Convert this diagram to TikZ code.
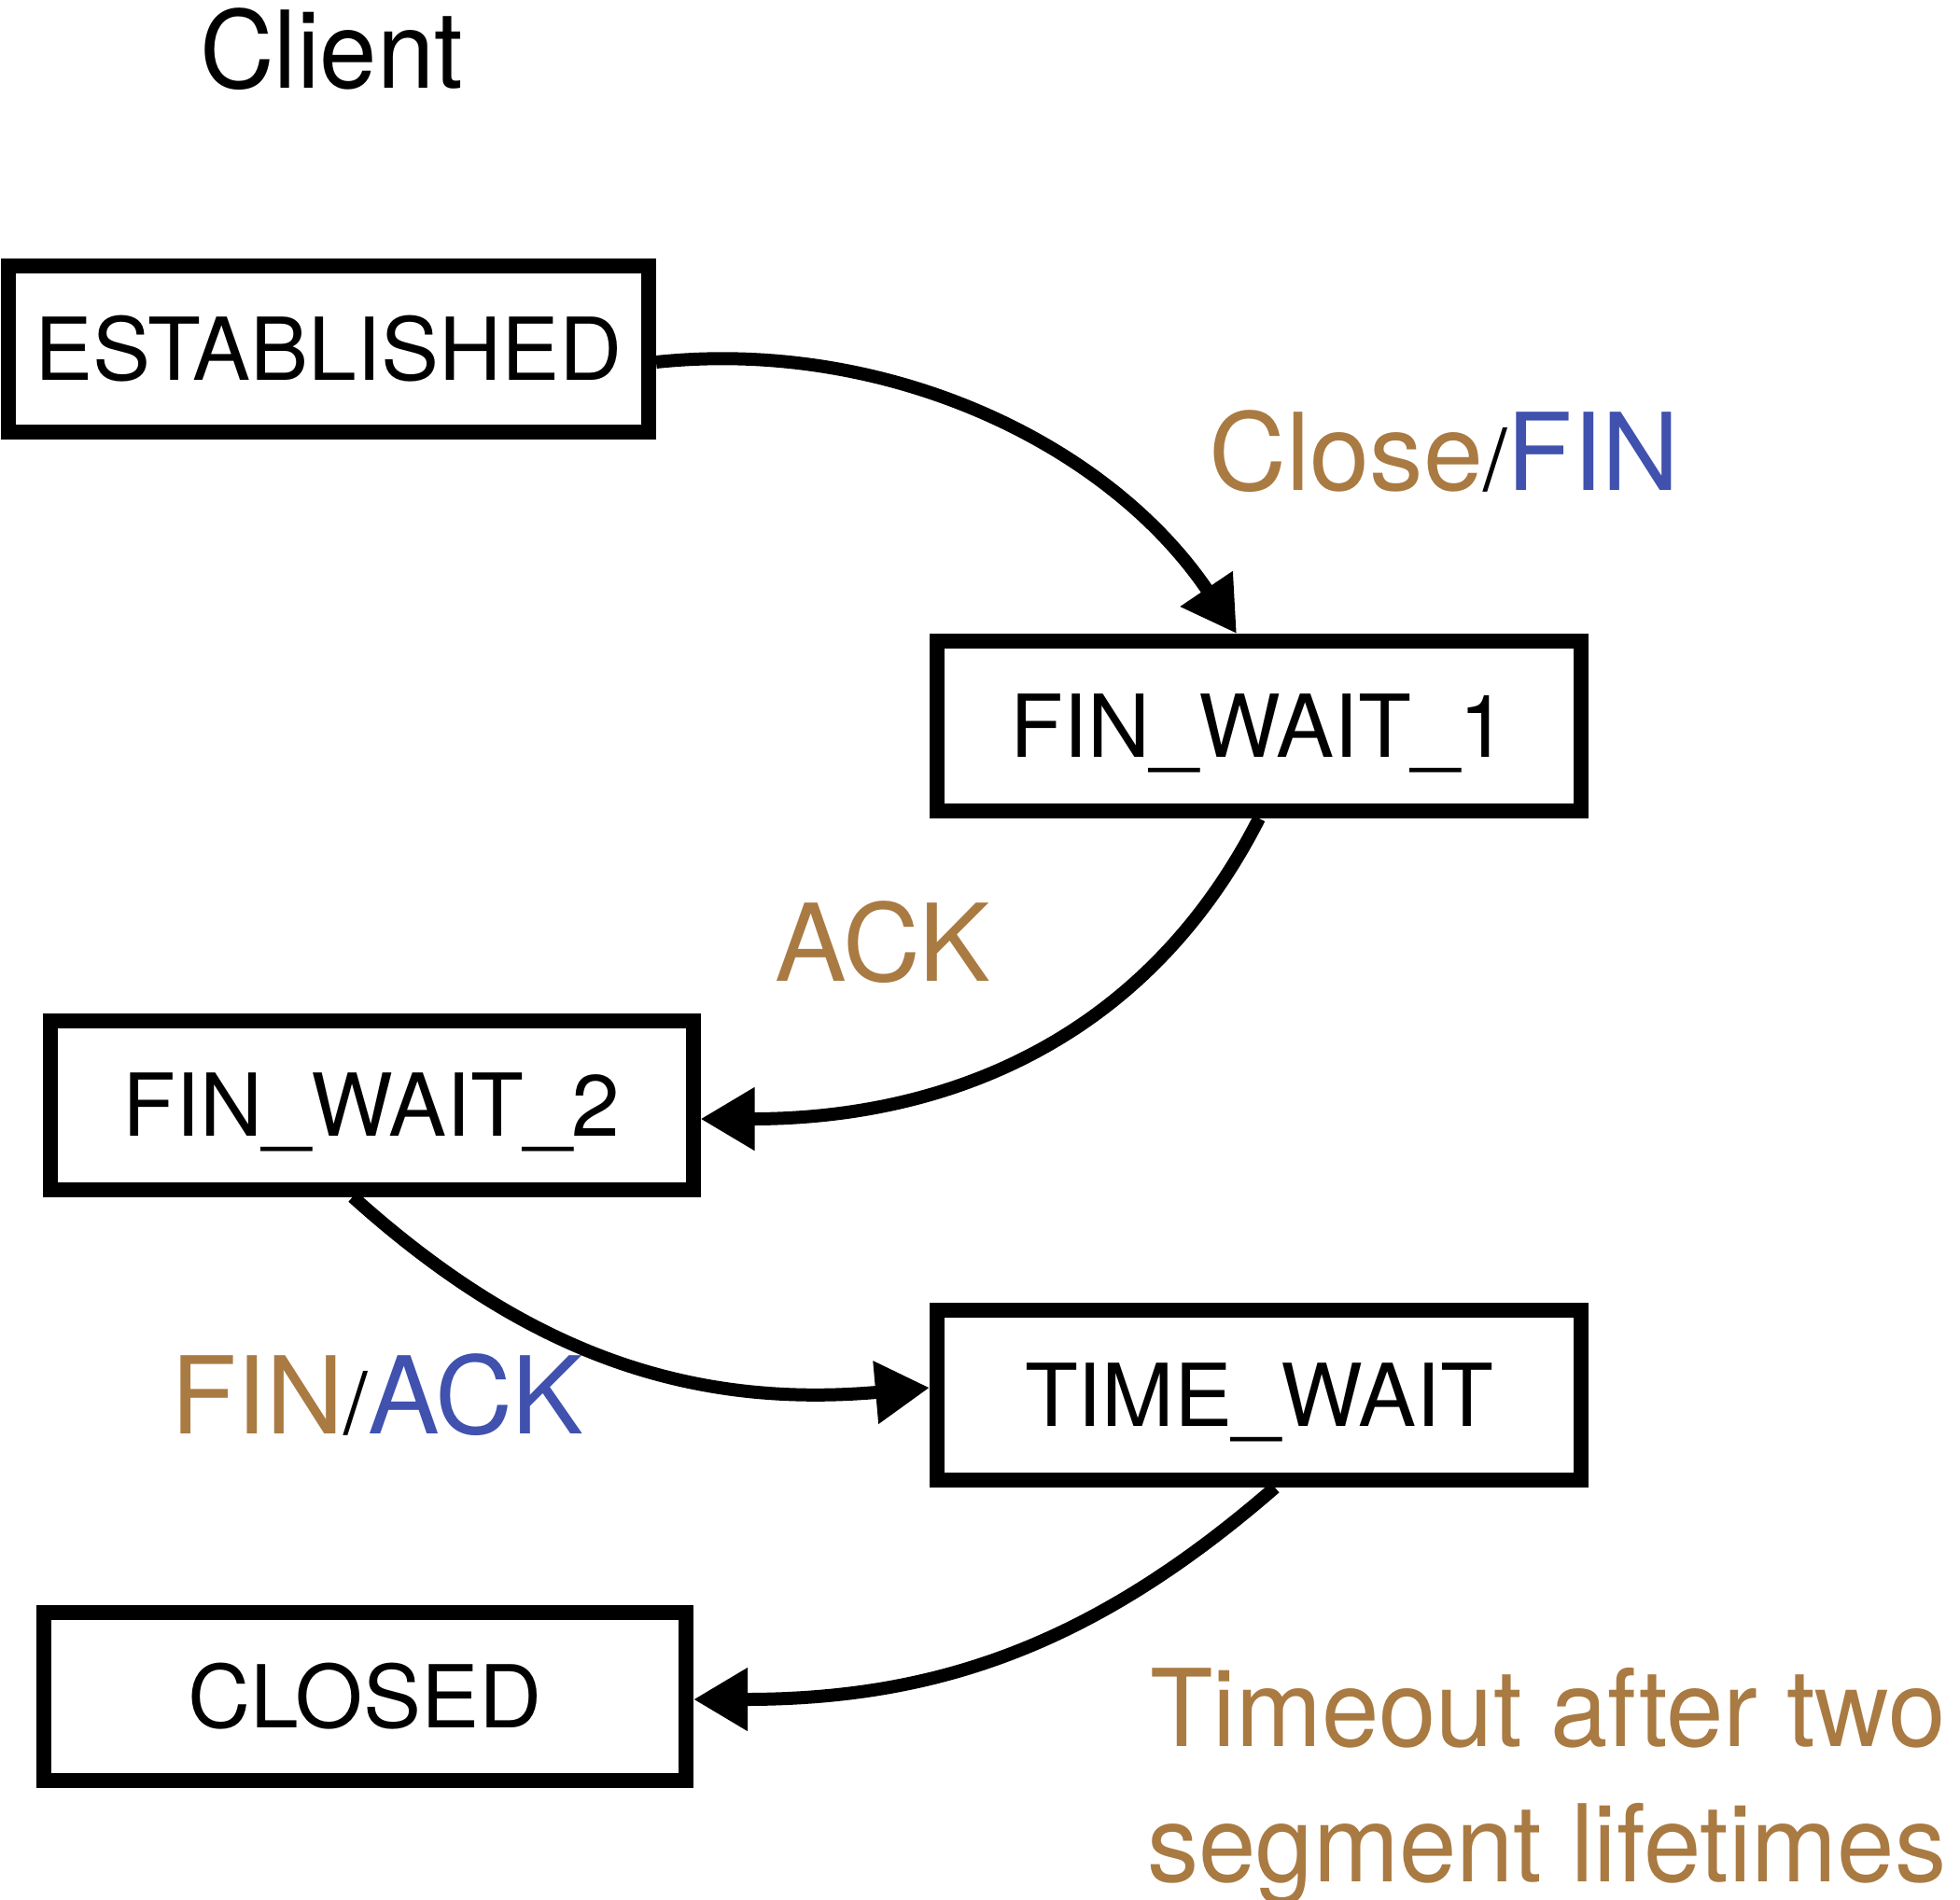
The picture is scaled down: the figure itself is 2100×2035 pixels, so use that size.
\documentclass[tikz,border=0pt]{standalone}
\usepackage{fontspec}
\setmainfont{TeX Gyre Heros}
\newfontfamily\narrowfont{TeX Gyre Heros}[FakeStretch=0.96]
\usetikzlibrary{arrows.meta}
\definecolor{lblbrown}{HTML}{A97A42}
\definecolor{lblblue}{HTML}{4051AE}
\newcommand\blslash{{\color{black}\fontsize{92}{92}\selectfont/}}
\begin{document}
\begin{tikzpicture}[x=1pt,y=1pt,
  stbox/.style={draw, line width=16pt, minimum width=690pt, minimum height=180pt, inner sep=0pt,
    font=\fontsize{93}{93}\selectfont, text height=66pt, text depth=0pt},
  trans/.style={line width=14pt, -{Triangle[length=58pt,width=64pt]}},
  lbl/.style={anchor=base west, inner sep=0pt, font=\fontsize{115}{140}\selectfont},
  nlbl/.style={anchor=base west, inner sep=0pt, font=\narrowfont\fontsize{115}{140}\selectfont}
]
\useasboundingbox (0,0) rectangle (2100,-2035);

\node[stbox, minimum width=686pt, minimum height=178pt] (est) at (352,-374) {ESTABLISHED};
\node[stbox, minimum height=182pt] (fw1) at (1349,-778) {FIN\_WAIT\_1};
\node[stbox, minimum width=689pt, minimum height=181pt] (fw2) at (398,-1184) {FIN\_WAIT\_2};
\node[stbox, minimum height=182pt] (tw) at (1349,-1495) {TIME\_WAIT};
\node[stbox, minimum width=688pt] (closed) at (391,-1818) {CLOSED};

\draw[trans] ([yshift=-14pt]est.east) to[out=6,in=124,looseness=0.92] ([xshift=-24pt]fw1.north);
\draw[trans] (fw1.south) to[out=-117,in=0] ([yshift=-15pt]fw2.east);
\draw[trans] ([xshift=-20pt]fw2.south) to[out=-42,in=185] ([yshift=8pt]tw.west);
\draw[trans] ([xshift=17pt]tw.south) to[out=-139,in=0] ([yshift=-3pt]closed.east);

\node[nlbl] (client) at (214,-94) {Client};
\node[lbl, text=lblbrown] (closefin) at (1295,-525) {Close\blslash\textcolor{lblblue}{FIN}};
\node[lbl, text=lblbrown] (ack) at (830,-1051) {ACK};
\node[lbl, text=lblbrown] (finack) at (183,-1536) {FIN\blslash\textcolor{lblblue}{ACK}};
\node[nlbl, text=lblbrown] (timeout1) at (1232,-1871) {Timeout after two};
\node[nlbl, text=lblbrown] (timeout2) at (1229,-2016) {segment lifetimes};
\end{tikzpicture}
\end{document}
